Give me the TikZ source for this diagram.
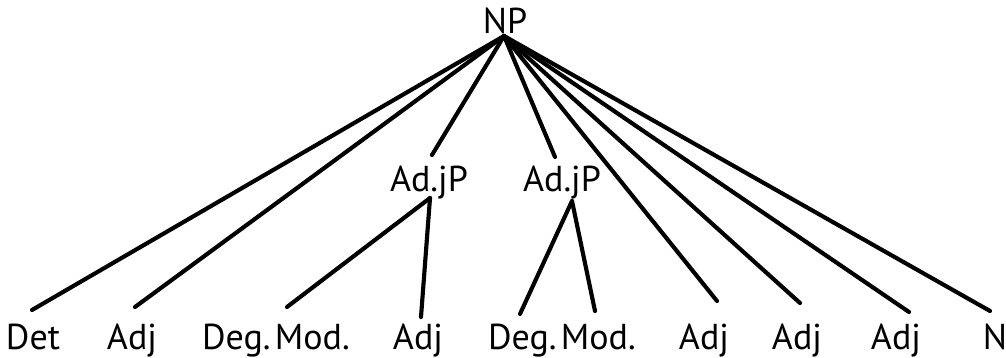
\documentclass[tikz,border=0pt]{standalone}
\usepackage{fontspec}
\setmainfont{PT Sans}
\begin{document}
\begin{tikzpicture}[x=0.75pt,y=-0.75pt,
  lab/.style={anchor=base,inner sep=0pt,font=\fontsize{27}{30}\selectfont},
  br/.style={line width=3.1pt,line cap=round}]
\useasboundingbox (0,0) rectangle (1006,357);
% labels
\node[lab] (np) at (505,33) {NP};
\node[lab] (ap1) at (429,191) {Ad.jP};
\node[lab] (ap2) at (562,191) {Ad.jP};
\node[lab] (det) at (33,349) {Det};
\node[lab] (adj1) at (132,349) {Adj};
\node[lab] (dm1) at (276,349) {Deg.\hspace{0.12em}Mod.};
\node[lab] (adj2) at (418,349) {Adj};
\node[lab] (dm2) at (562,349) {Deg.\hspace{0.12em}Mod.};
\node[lab] (adj3) at (704,349) {Adj};
\node[lab] (adj4) at (797,349) {Adj};
\node[lab] (adj5) at (896,349) {Adj};
\node[lab] (n) at (995,349) {N};
% connector ends
\coordinate (r) at (504,36);
\coordinate (ap1t) at (432,155);
\coordinate (ap2t) at (555,157);
\coordinate (ap1b) at (430,198);
\coordinate (ap2b) at (572,201);
\coordinate (dett) at (32,310);
\coordinate (adj1t) at (135,307);
\coordinate (dm1t) at (287,307);
\coordinate (adj2t) at (421,317);
\coordinate (dm2t) at (520,314);
\coordinate (dm2u) at (595,311);
\coordinate (adj3t) at (717,301);
\coordinate (adj4t) at (800,303);
\coordinate (adj5t) at (909,312);
\coordinate (nt) at (990,311);
% branches
\draw[br] (r) -- (dett);
\draw[br] (r) -- (adj1t);
\draw[br] (r) -- (ap1t);
\draw[br] (r) -- (ap2t);
\draw[br] (r) -- (adj3t);
\draw[br] (r) -- (adj4t);
\draw[br] (r) -- (adj5t);
\draw[br] (r) -- (nt);
\draw[br] (ap1b) -- (dm1t);
\draw[br] (ap1b) -- (adj2t);
\draw[br] (ap2b) -- (dm2t);
\draw[br] (ap2b) -- (dm2u);
\end{tikzpicture}
\end{document}
